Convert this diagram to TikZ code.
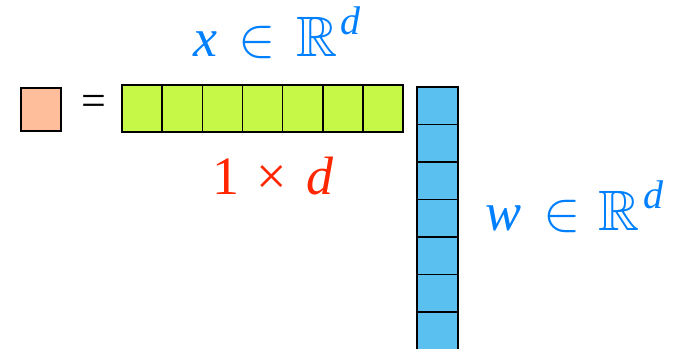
\documentclass[tikz,border=0pt]{standalone}
\usepackage{amssymb}
\usepackage{graphicx}
\usepackage{fontspec}
\setmainfont{LiberationSerif}[Extension=.ttf, UprightFont=*-Regular, ItalicFont=*-Italic, BoldFont=*-Bold, BoldItalicFont=*-BoldItalic]
\newfontfamily\tms{LiberationSerif}[Extension=.ttf, UprightFont=*-Regular, ItalicFont=*-Italic, BoldFont=*-Bold, BoldItalicFont=*-BoldItalic]
\definecolor{cellorange}{RGB}{255,190,155}
\definecolor{cellgreen}{RGB}{198,248,72}
\definecolor{cellblue}{RGB}{90,192,240}
\definecolor{txtblue}{RGB}{0,128,255}
\definecolor{txtred}{RGB}{255,38,0}
\tikzset{
  cell/.style={draw=black, line width=1.5pt, inner sep=0pt, outer sep=0pt},
  bigtext/.style={inner sep=0pt, outer sep=0pt, anchor=base west, font=\tms\fontsize{54}{60}\selectfont},
}
\newcommand{\supd}{\hspace{0.06em}\raisebox{0.40em}{\fontsize{40}{42}\selectfont\textit{d}}}
\newcommand{\bigin}{\scalebox{5.6}{\normalsize$\in$}}
\newcommand{\bigR}{\scalebox{5.7}{\normalsize$\mathbb{R}$}}
\begin{document}
\begin{tikzpicture}[x=1pt,y=-1pt]
\useasboundingbox (0,0) rectangle (685,348);
% scalar result
\node[cell, fill=cellorange, minimum width=40pt, minimum height=43pt, anchor=north west] (s) at (21,88) {};
\node[inner sep=0pt, anchor=center, font=\tms\fontsize{44}{48}\selectfont] (eq) at (94,105) {=};
% row vector x
\foreach \i in {1,...,7} {
  \node[cell, fill=cellgreen, minimum width=40.2pt, minimum height=47pt, anchor=north west] (g\i) at ({122+40.15*(\i-1)},85) {};
}
% column vector w
\foreach \i in {1,...,7} {
  \node[cell, fill=cellblue, minimum width=41pt, minimum height=37.5pt, anchor=north west] (b\i) at (417,{87+37.5*(\i-1)}) {};
}
% labels
\node[bigtext, text=txtblue] (xl) at (193,56) {\textit{x}\hspace{0.4em}\bigin\hspace{0.38em}\bigR\supd};
\node[bigtext, text=txtred] (dim) at (212,194) {1\hspace{0.33em}×\hspace{0.36em}\textit{d}};
\node[bigtext, text=txtblue] (wl) at (485,230) {\textit{w}\hspace{0.42em}\bigin\hspace{0.33em}\bigR\supd};
\end{tikzpicture}
\end{document}
